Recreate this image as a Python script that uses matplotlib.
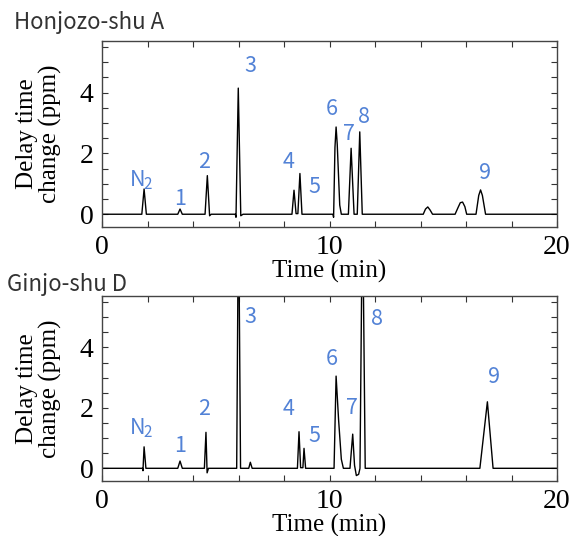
"""
Gas chromatogram comparison - Honjozo-shu A vs Ginjo-shu D
"""

import matplotlib
matplotlib.use('Agg')
import matplotlib.pyplot as plt
from matplotlib.ticker import MultipleLocator, FixedLocator

# --- data (time in min, delay time change in ppm) ---
time_a = [0.0, 1.75, 1.85, 1.95, 3.33, 3.43, 3.53, 4.53, 4.63, 4.73, 4.80,
          5.86, 5.89, 5.99, 6.10, 6.20, 8.35, 8.44, 8.53, 8.61, 8.70, 8.79,
          10.15, 10.18, 10.24, 10.29, 10.34, 10.45, 10.52, 10.83, 10.95,
          11.08, 11.22, 11.33, 11.44, 14.12, 14.22, 14.32, 14.42, 14.53,
          15.52, 15.65, 15.75, 15.85, 15.95, 16.03, 16.44, 16.56, 16.64,
          16.72, 16.86, 20.0]
value_a = [0.0, 0.0, 0.83, 0.0, 0.0, 0.17, 0.0, 0.0, 1.27, -0.05, 0.0,
           0.0, -0.1, 4.15, -0.05, 0.0, 0.0, 0.79, 0.02, 0.02, 1.34, 0.0,
           0.0, -0.1, 2.2, 2.87, 2.3, 0.3, 0.0, 0.0, 2.17,
           0.0, 0.0, 2.71, 0.0, 0.0, 0.17, 0.24, 0.14, 0.0,
           0.0, 0.22, 0.38, 0.40, 0.25, 0.0, 0.0, 0.62, 0.80,
           0.62, 0.0, 0.0]

time_d = [0.0, 1.78, 1.80, 1.85, 1.93, 3.33, 3.43, 3.53, 4.50, 4.57, 4.62,
          4.68, 5.92, 6.00, 6.09, 6.45, 6.52, 6.60, 8.59, 8.66, 8.73, 8.83,
          8.88, 8.95, 10.20, 10.29, 10.40, 10.52, 10.61, 10.90, 11.02, 11.10,
          11.18, 11.28, 11.34, 11.45, 11.57, 16.61, 16.94, 17.19, 20.0]
value_d = [0.0, 0.0, -0.08, 0.71, 0.0, 0.0, 0.24, 0.0, 0.0, 1.19, -0.15,
           0.0, 0.0, 9.0, 0.0, 0.0, 0.2, 0.0, 0.0, 1.21, 0.02, 0.02,
           0.66, 0.0, 0.0, 3.05, 1.6, 0.3, 0.0, 0.0, 1.13, 0.1,
           -0.24, -0.2, 0.0, 9.0, 0.0, 0.0, 2.2, 0.0, 0.0]

# first label is N2 (drawn as N + smaller subscript 2)
peak_labels = ['N', '1', '2', '3', '4', '5', '6', '7', '8', '9']
label_x_a = [1.55, 3.43, 4.48, 6.50, 8.19, 9.33, 10.10, 10.87, 11.52, 16.84]
label_y_a = [1.13, 0.49, 1.73, 4.87, 1.73, 0.89, 3.47, 2.64, 3.20, 1.35]
label_x_d = [1.55, 3.43, 4.48, 6.50, 8.19, 9.33, 10.10, 10.97, 12.07, 17.25]
label_y_d = [1.32, 0.73, 1.95, 5.00, 1.95, 1.08, 3.60, 1.98, 4.95, 3.02]

x_ticks = [0, 10, 20]
y_ticks = [0, 2, 4]

BLUE = '#5282d6'
SERIF = 'Liberation Serif'
SANS = ['Noto Sans CJK JP', 'DejaVu Sans']


def draw_panel(ax, t, v, lx, ly):
    ax.plot(t, v, color='black', linewidth=1.0)
    ax.set_xlim(0, 20)
    ax.set_ylim(-0.42, 5.7)

    ax.xaxis.set_major_locator(FixedLocator(x_ticks))
    ax.xaxis.set_minor_locator(MultipleLocator(2))
    ax.yaxis.set_major_locator(FixedLocator(y_ticks))
    ax.yaxis.set_minor_locator(MultipleLocator(0.5))
    ax.tick_params(which='both', direction='in', top=True, right=True,
                   length=4, width=0.8, color='#333333')
    ax.tick_params(which='major', labelsize=20, pad=6)
    for lab in ax.get_xticklabels() + ax.get_yticklabels():
        lab.set_fontfamily(SERIF)
    for s in ax.spines.values():
        s.set_color('#444444')
        s.set_linewidth(1.0)

    for txt, x, y in zip(peak_labels, lx, ly):
        ax.text(x, y, txt, color=BLUE, fontsize=15.5, family=SANS,
                ha='center', va='center', clip_on=False)
    # subscript of N2
    ax.annotate('2', (lx[0], ly[0]), xytext=(4.8, -3), textcoords='offset points',
                color=BLUE, fontsize=11, family=SANS, ha='left', va='center')

    ax.set_xlabel('Time (min)', fontsize=18, family=SERIF, labelpad=0)
    ax.set_ylabel('Delay time\nchange (ppm)', fontsize=18, family=SERIF,
                  linespacing=1.05, labelpad=13)


fig = plt.figure(figsize=(5.73, 5.36), dpi=100)
ax_top = fig.add_axes([102 / 573, 1 - 227 / 536, 455 / 573, 186 / 536])
ax_bot = fig.add_axes([102 / 573, 1 - 481 / 536, 455 / 573, 185 / 536])

draw_panel(ax_top, time_a, value_a, label_x_a, label_y_a)
draw_panel(ax_bot, time_d, value_d, label_x_d, label_y_d)

fig.text(14 / 573, 1 - 23 / 536, 'Honjozo-shu A', fontsize=16, family=SANS,
         color='#333333', ha='left', va='center')
fig.text(7 / 573, 1 - 284 / 536, 'Ginjo-shu D', fontsize=16, family=SANS,
         color='#333333', ha='left', va='center')

fig.savefig('out.png', dpi=100)
